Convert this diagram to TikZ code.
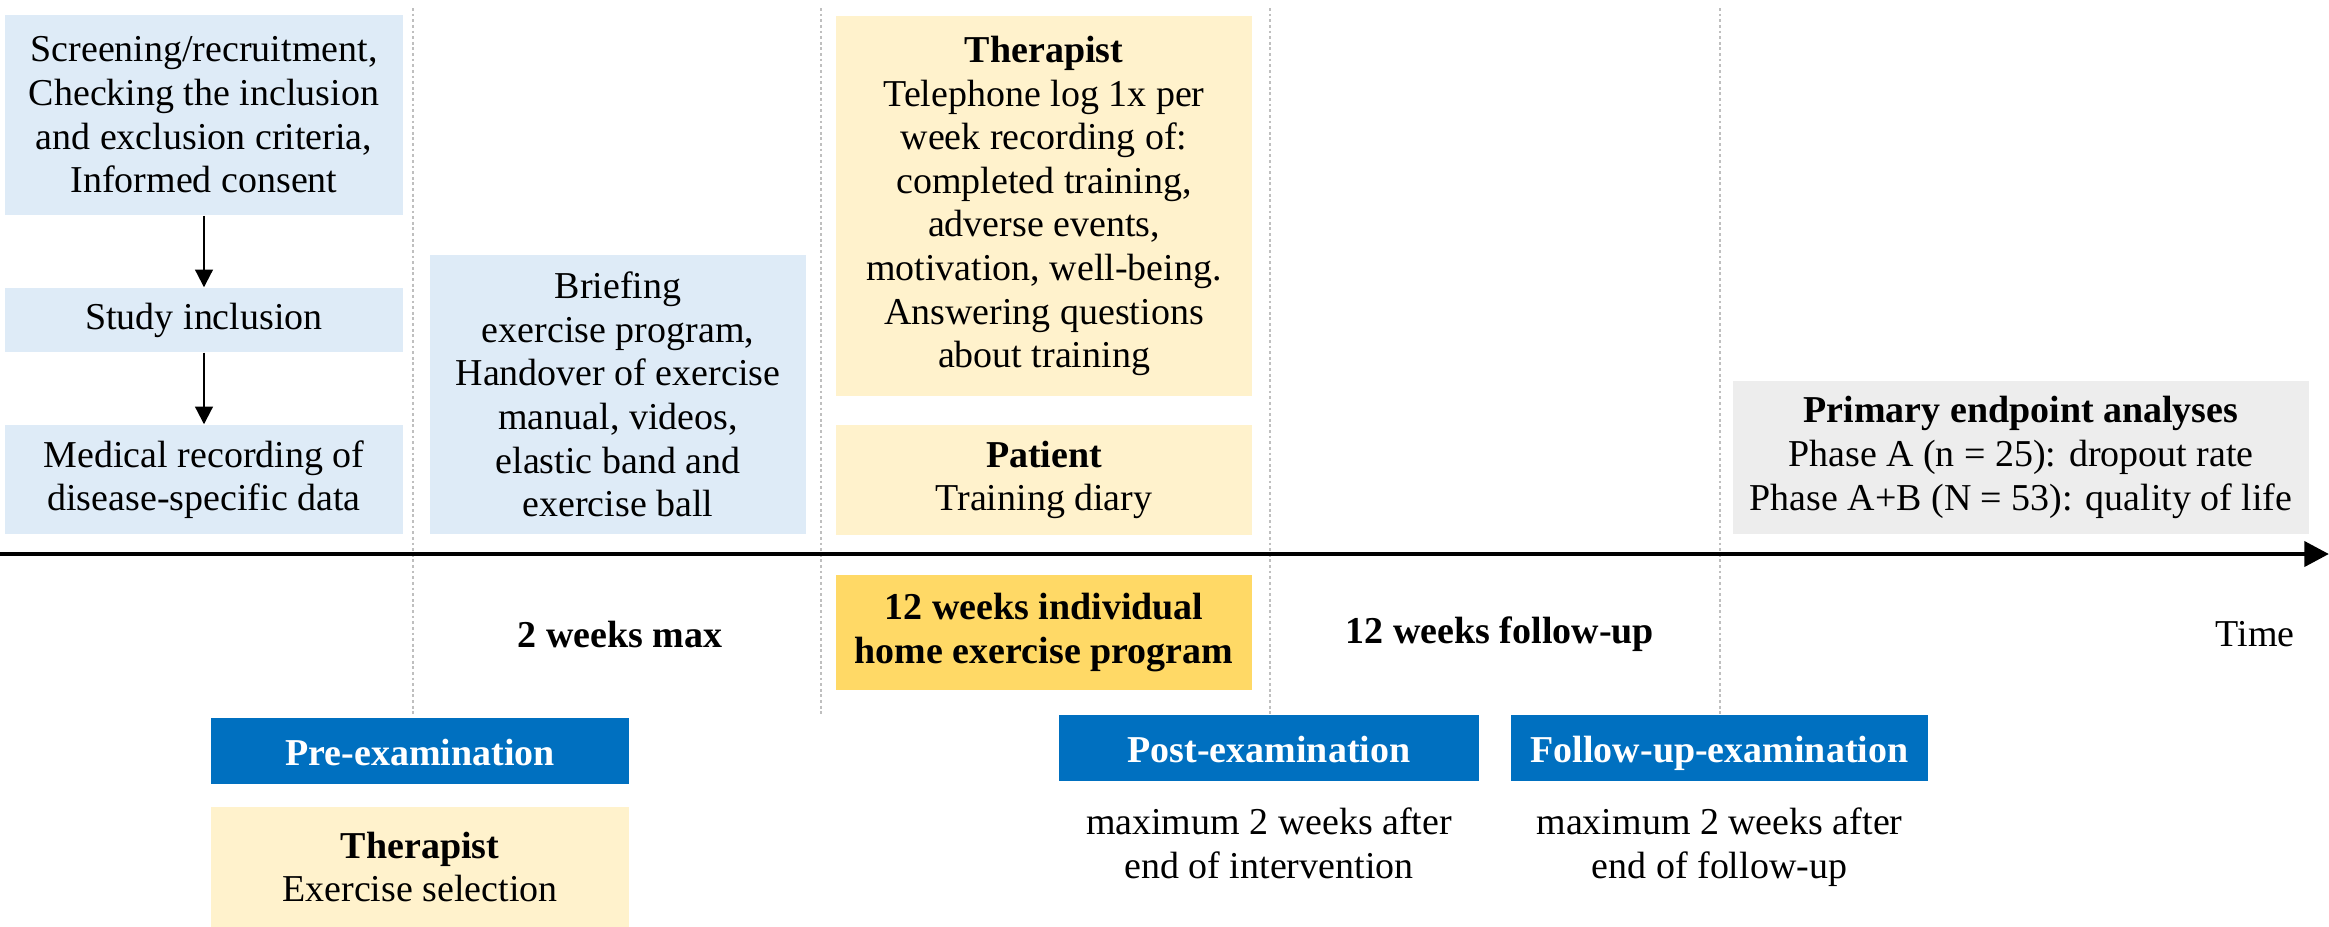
\documentclass[tikz,border=0pt]{standalone}
\usepackage{fontspec}
\setmainfont{Liberation Serif}
\usetikzlibrary{positioning,arrows.meta}

\definecolor{lightblue}{HTML}{DEEBF7}
\definecolor{lightyellow}{HTML}{FFF2CC}
\definecolor{gold}{HTML}{FFD966}
\definecolor{darkblue}{HTML}{0070C0}
\definecolor{lightgray}{HTML}{EDEDED}
\definecolor{divgray}{HTML}{BFBFBF}

\tikzset{
	box/.style={fill=#1, inner sep=0pt, align=center, font=\fontsize{10.8}{12.4}\selectfont},
	exam/.style={box=darkblue, text=white, font=\fontsize{10.8}{12.4}\selectfont\bfseries,
		text height=2.2ex, text depth=0.4ex, minimum height=0.66cm},
	plain/.style={inner sep=0pt, align=center, font=\fontsize{10.8}{12.4}\selectfont},
	divider/.style={divgray, line width=0.4pt, dash pattern=on 0.8pt off 0.8pt},
	flow/.style={-{Triangle[length=5pt,width=5pt]}, line width=0.6pt},
	axis/.style={-{Triangle[length=7pt,width=7pt]}, line width=1.4pt},
}

\begin{document}
\begin{tikzpicture}[x=0.01cm,y=-0.01cm]
		\useasboundingbox (0,0) rectangle (2329,926);
		%
		\foreach \x in {413,821,1270,1720}
			\draw[divider] (\x,8) -- (\x,716);
		\coordinate (t0) at (0,554);
		\coordinate (t1) at (2329,554);
		\draw[axis] (t0) -- (t1);
		%
		\node[box=lightblue, minimum width=3.97cm, minimum height=2cm] (screen) at (204,115)
			{Screening/recruitment,\\Checking the inclusion\\and exclusion criteria,\\Informed consent};
		\node[box=lightblue, minimum width=3.97cm, minimum height=0.64cm] (incl) at (204,320) {Study inclusion};
		\node[box=lightblue, minimum width=3.97cm, minimum height=1.09cm] (medical) at (204,479.5)
			{Medical recording of\\disease-specific data};
		\node[box=lightblue, minimum width=3.75cm, minimum height=2.79cm] (brief) at (618,394.5)
			{Briefing\\exercise program,\\Handover of exercise\\manual, videos,\\elastic band and\\exercise ball};
		\node[box=lightyellow, minimum width=4.16cm, minimum height=3.8cm] (therapist) at (1044,206)
			{\textbf{Therapist}\\Telephone log 1x per\\week recording of:\\completed training,\\adverse events,\\motivation, well-being.\\Answering questions\\about training};
		\node[box=lightyellow, minimum width=4.16cm, minimum height=1.1cm] (patient) at (1044,480)
			{\textbf{Patient}\\Training diary};
		\node[box=lightgray, minimum width=5.75cm, minimum height=1.53cm] (primary) at (2021,457.5)
			{\textbf{Primary endpoint analyses}\\Phase A (n = 25): dropout rate\\Phase A+B (N = 53): quality of life};
		%
		\draw[flow] (screen) -- (incl);
		\draw[flow] (incl) -- (medical);
		%
		\node[box=gold, font=\fontsize{10.8}{12.6}\selectfont\bfseries, minimum width=4.16cm, minimum height=1.14cm] (program) at (1044,632.5)
			{12 weeks individual\\home exercise program};
		\node[plain, font=\fontsize{10.8}{12.4}\selectfont\bfseries] (prephase) at (620,634) {2 weeks max};
		\node[plain, font=\fontsize{10.8}{12.4}\selectfont\bfseries] (followup) at (1500,634) {12 weeks follow-up};
		\node[plain] (time) at (2255,634) {Time};
		%
		\node[exam, minimum width=4.18cm] (pre) at (420,751) {Pre-examination};
		\node[box=lightyellow, minimum width=4.18cm, minimum height=1.2cm] (therapist2) at (420,867)
			{\textbf{Therapist}\\Exercise selection};
		\node[exam, minimum width=4.2cm] (post) at (1269,747.5) {Post-examination};
		\node[exam, minimum width=4.17cm] (fol) at (1719.5,747.5) {Follow-up-examination};
		\node[plain, below=0.26cm of post] (postnote) {maximum 2 weeks after\\end of intervention};
		\node[plain, below=0.26cm of fol] (folnote) {maximum 2 weeks after\\end of follow-up};
\end{tikzpicture}
\end{document}
